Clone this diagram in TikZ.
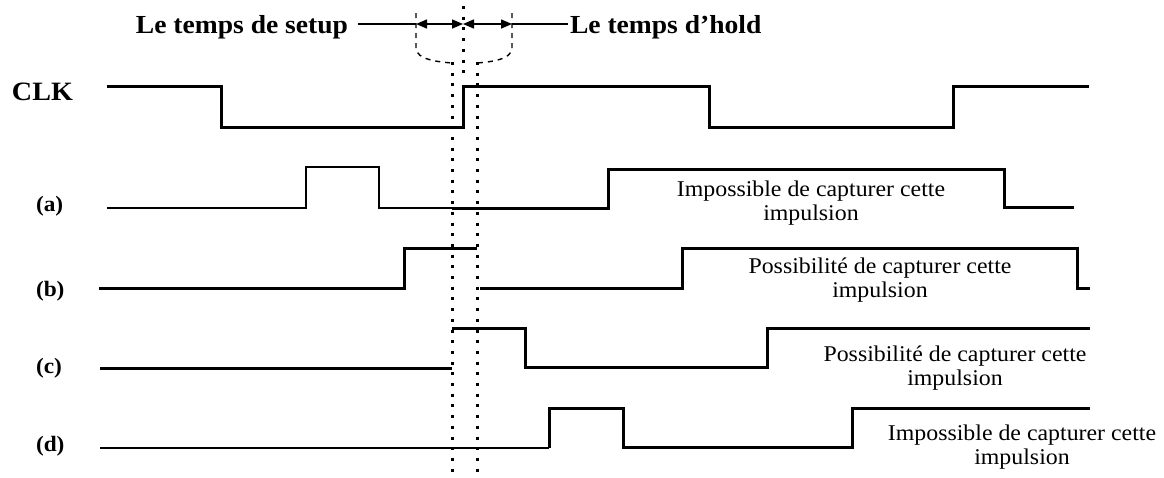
\documentclass[tikz,border=0pt]{standalone}
\usepackage{fontspec}
\setmainfont{Liberation Serif}[FakeStretch=1.06]
\usetikzlibrary{arrows.meta}
\begin{document}
\begin{tikzpicture}[x=1pt,y=-1pt,
  wave/.style={line width=3pt, line join=miter, line cap=butt},
  wavethin/.style={line width=1.8pt, line join=miter, line cap=butt},
  dotline/.style={line width=3pt, dash pattern=on 3pt off 7.7pt},
  funnel/.style={line width=1.4pt, dash pattern=on 5pt off 5pt},
  lbl/.style={inner sep=0pt, outer sep=0pt, font=\bfseries\fontsize{22}{24}\selectfont, anchor=base west},
  clklbl/.style={inner sep=0pt, outer sep=0pt, font=\bfseries\fontsize{26.5}{28}\selectfont, anchor=base west},
  msg/.style={inner sep=0pt, outer sep=0pt, font=\fontsize{22.5}{24}\selectfont, anchor=base},
  ttl/.style={inner sep=0pt, outer sep=0pt, font=\bfseries\fontsize{26}{28}\selectfont},
  dim/.style={line width=1.5pt},
  dimarrow/.style={dim, {Triangle[length=11pt,width=9pt]}-{Triangle[length=11pt,width=9pt]}}
]
\useasboundingbox (0,0) rectangle (1164,477);

% titles
\node[ttl, anchor=base east] (setup) at (348,33) {Le temps de setup};
\node[ttl, anchor=base west] (hold) at (570,33) {Le temps d’hold};
\coordinate (sl) at (416,24);
\coordinate (sm) at (463,24);
\coordinate (sr) at (512,24);
\draw[dim] (358,24) -- (sl);
\draw[dim] (sr) -- (568,24);
\draw[dimarrow] (sl) -- (sm);
\draw[dimarrow] (sm) -- (sr);

% funnel
\draw[funnel] (416,13) -- (416,48) .. controls (416,60) and (440,62) .. (452,63);
\draw[funnel] (512,13) -- (512,48) .. controls (512,60) and (489,62) .. (477,63);

% signal labels
\node[clklbl] (clk) at (12,100) {CLK};
\node[lbl] (la) at (36,211) {(a)};
\node[lbl] (lb) at (36,296) {(b)};
\node[lbl] (lc) at (36,373) {(c)};
\node[lbl] (ld) at (36,451) {(d)};

% CLK
\draw[wave] (107,86) -- (221,86) -- (221,127) -- (463,127) -- (463,86) -- (709,86)
  -- (709,127) -- (953,127) -- (953,86) -- (1089,86);
% (a)
\draw[wavethin] (107,208) -- (306,208) -- (306,167) -- (379,167) -- (379,208) -- (452,208);
\draw[wave] (452,208) -- (608,208) -- (608,169) -- (1004,169) -- (1004,207) -- (1074,207);
% (b)
\draw[wave] (99,288) -- (404,288) -- (404,248) -- (477,248);
\draw[wave] (480,288) -- (682,288) -- (682,248) -- (1077,248) -- (1077,288) -- (1090,288);
% (c)
\draw[wave] (100,368) -- (452,368);
\draw[wave] (452,328) -- (525,328) -- (525,367) -- (767,367) -- (767,328) -- (1090,328);
% (d)
\draw[wavethin] (100,448) -- (549,448);
\draw[wave] (549,448) -- (549,408) -- (623,408) -- (623,447) -- (852,447) -- (852,408) -- (1090,408);

% dotted timing lines
\draw[dotline] (452,62) -- (452,477);
\draw[dotline] (477,62) -- (477,477);
\draw[dotline] (463,6) -- (463,76);

% messages
\node[msg] (ma1) at (811,196) {Impossible de capturer cette};
\node[msg] (ma2) at (811,220) {impulsion};
\node[msg] (mb1) at (880,273) {Possibilité de capturer cette};
\node[msg] (mb2) at (880,297) {impulsion};
\node[msg] (mc1) at (955,361) {Possibilité de capturer cette};
\node[msg] (mc2) at (955,385) {impulsion};
\node[msg] (md1) at (1022,440) {Impossible de capturer cette};
\node[msg] (md2) at (1022,464) {impulsion};
\end{tikzpicture}
\end{document}
